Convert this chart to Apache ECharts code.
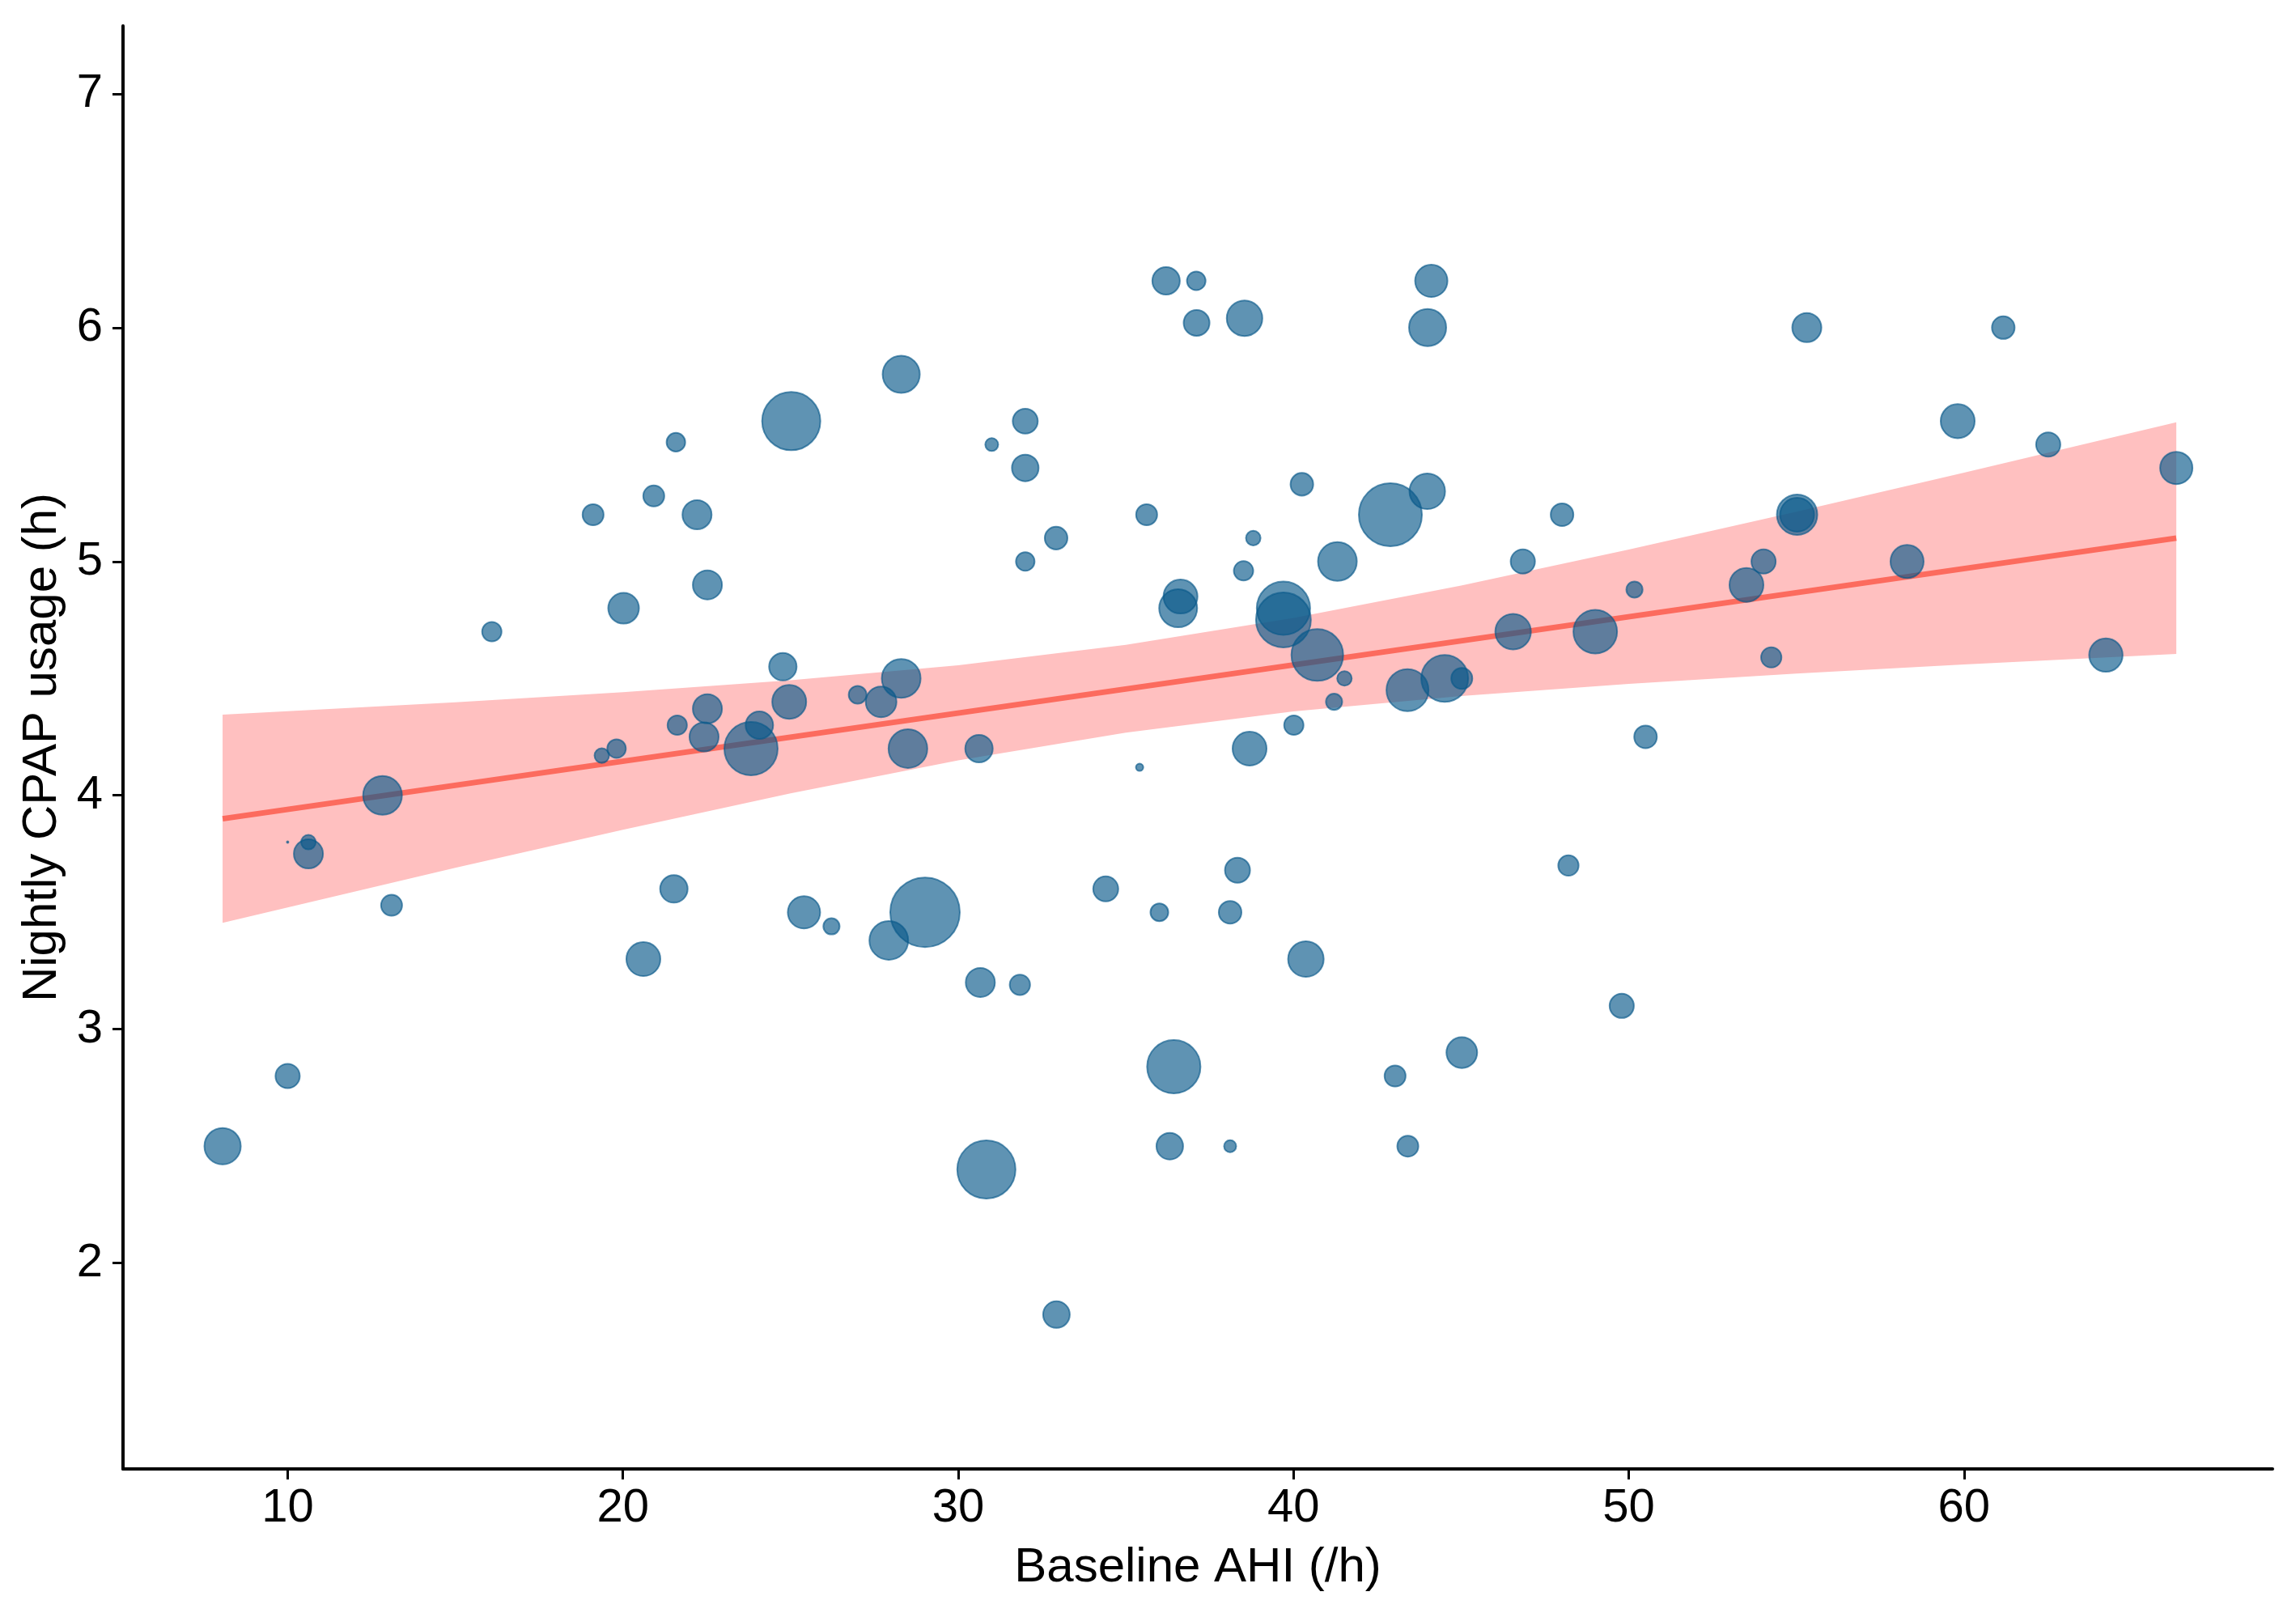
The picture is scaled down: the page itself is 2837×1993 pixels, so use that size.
<!DOCTYPE html>
<html>
<head>
<meta charset="utf-8">
<script src="https://cdn.jsdelivr.net/npm/echarts@6/dist/echarts.min.js"></script>
<style>
html,body{margin:0;padding:0;background:#fff;}
#chart{width:2837px;height:1993px;}
</style>
</head>
<body>
<div id="chart"></div>
<script>
// Baseline AHI (/h)
var ahi = [8.06,10.0,10.0,10.62,10.62,12.83,13.1,16.09,19.11,19.37,19.81,20.02,20.61,20.92,21.52,21.58,21.62,22.21,22.42,22.52,22.52,23.82,24.07,24.77,24.96,25.02,25.4,26.22,27.0,27.7,27.93,28.3,28.3,28.5,29.01,30.62,30.66,30.84,31.0,31.84,32.0,32.0,32.0,32.92,32.93,34.4,35.41,35.62,36.0,36.2,36.31,36.43,36.63,36.56,37.1,37.11,38.11,38.11,38.33,38.51,38.54,38.69,38.8,39.7,39.7,40.01,40.25,40.37,40.71,41.21,41.31,41.52,42.89,43.03,43.4,43.41,43.99,44.0,44.11,44.51,45.02,45.02,46.55,46.84,48.01,48.2,49.0,49.79,50.17,50.5,53.51,54.02,54.25,55.02,55.02,55.31,58.3,59.81,61.17,62.51,64.23,66.33];
// Nightly CPAP usage (h)
var usage = [2.50,2.80,3.80,3.80,3.75,4.00,3.53,4.70,5.20,4.17,4.20,4.80,3.30,5.28,3.60,5.51,4.30,5.20,4.25,4.37,4.90,4.20,4.30,4.55,4.40,5.60,3.50,3.44,4.43,4.40,3.38,5.80,4.50,4.20,3.50,4.20,3.20,2.40,5.50,3.19,5.60,5.40,5.00,5.10,1.78,3.60,4.12,5.20,3.50,6.20,2.50,2.84,4.85,4.80,6.20,6.02,3.50,2.50,3.68,4.96,6.04,4.20,5.10,4.80,4.75,4.30,5.33,3.30,4.60,4.40,5.00,4.50,5.20,2.80,4.45,2.50,5.30,6.00,6.20,4.50,4.50,2.90,4.70,5.00,5.20,3.70,4.70,3.10,4.88,4.25,4.90,5.00,4.59,5.20,5.20,6.00,5.00,5.60,6.00,5.50,4.60,5.40];
// bubble weight (relative, area-proportional)
var weight = [31.6,14.1,0.06,5.1,20.3,36,10.6,9,10.6,5.1,8.3,22.6,27.6,10.6,18.1,8.3,9,20.3,20.3,20.3,20.3,68,18.1,18.1,27.6,81,25,6.3,7.6,22.6,36,33,36,36,115.6,18.1,20.3,81,4,9.9,15,17,8.3,12.3,17,15,1.3,10.6,7.6,18.1,17,68,27.6,34.5,8.3,16,12.3,3.5,15,9,30.3,27.6,5.1,68,72,9,12.3,30.3,64,6.3,36,5.1,95,10.6,42.3,10.6,30.3,33,25,52.6,10.6,22.6,30.3,14.1,12.3,9.9,45.6,14.1,6.3,12.3,27.6,14.1,9.9,39,27.6,20.3,26.3,27.6,12.3,14.1,26.8,25];

// linear fit and its confidence band
var fitX = [8.06, 66.33];
var fitY = [3.90, 5.10];
var bandX    = [8.06, 15, 20, 25, 30, 35, 40, 45, 50, 55, 60, 66.33];
var bandHigh = [4.345,4.398,4.441,4.492,4.556,4.644,4.759,4.897,5.051,5.213,5.380,5.595];
var bandLow  = [3.455,3.690,3.853,4.009,4.150,4.268,4.359,4.425,4.477,4.521,4.560,4.605];

var xTicks = [10,20,30,40,50,60];
var yTicks = [2,3,4,5,6,7];

var points = ahi.map(function(x,i){ return [x, usage[i], weight[i]]; });
var fitLine = fitX.map(function(x,i){ return [x, fitY[i]]; });

var chart = echarts.init(document.getElementById('chart'), null, {renderer:'canvas'});
var FONT = '"Liberation Sans", Arial, sans-serif';
var axisCommon = {
  axisLine:{show:true, onZero:false, lineStyle:{color:'#000', width:4}},
  splitLine:{show:false},
  nameLocation:'middle',
  nameTextStyle:{fontFamily:FONT, fontSize:60, color:'#000'}
};
chart.setOption({
  animation:false,
  backgroundColor:'#fff',
  grid:{left:152, right:29, top:32, bottom:178, containLabel:false},
  xAxis: Object.assign({}, axisCommon, {
    type:'value', min:5.09, max:69.2,
    name:'Baseline AHI (/h)', nameGap:92,
    axisTick:{show:true, length:13, customValues:xTicks, lineStyle:{color:'#000', width:3}},
    axisLabel:{customValues:xTicks, margin:20, fontFamily:FONT, fontSize:58, color:'#000'}
  }),
  yAxis: Object.assign({}, axisCommon, {
    type:'value', min:1.12, max:7.29,
    name:'Nightly CPAP usage (h)', nameGap:70,
    axisTick:{show:true, length:13, customValues:yTicks, lineStyle:{color:'#000', width:3}},
    axisLabel:{customValues:yTicks, margin:25, fontFamily:FONT, fontSize:58, color:'#000'}
  }),
  series:[
    {
      type:'custom', silent:true, clip:true, z:1,
      data:[0],
      renderItem:function(params, api){
        var pts = [];
        for (var i=0;i<bandX.length;i++) pts.push(api.coord([bandX[i], bandHigh[i]]));
        for (var j=bandX.length-1;j>=0;j--) pts.push(api.coord([bandX[j], bandLow[j]]));
        return {type:'polygon', shape:{points:pts, smooth:0}, style:{fill:'#FFC0C0', stroke:null}};
      }
    },
    {
      type:'line', silent:true, z:2, data:fitLine, symbol:'none',
      lineStyle:{color:'#FC6B5E', width:7}
    },
    {
      type:'scatter', silent:true, z:3, data:points,
      symbolSize:function(v){ return 8*Math.sqrt(v[2]); },
      itemStyle:{color:'rgba(9,89,138,0.65)', borderColor:'rgba(9,89,138,0.65)', borderWidth:2, opacity:1}
    }
  ]
});
</script>
</body>
</html>
